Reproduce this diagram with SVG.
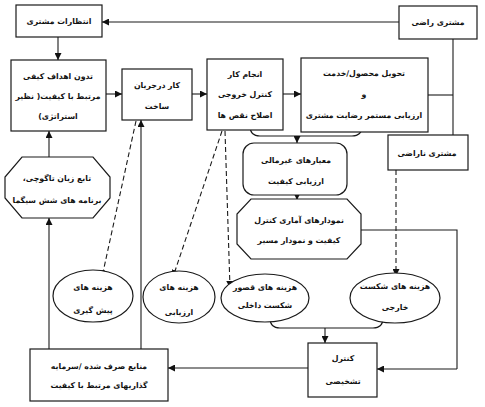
<svg xmlns="http://www.w3.org/2000/svg" width="485" height="407" viewBox="0 0 485 407">
<defs>
<marker id="ah" viewBox="0 0 10 10" refX="10" refY="5" markerWidth="7" markerHeight="7" markerUnits="userSpaceOnUse" orient="auto">
<path d="M0,0 L10,5 L0,10 z" fill="#111"/>
</marker>
<style>
.b{fill:#fff;stroke:#1a1a1a;stroke-width:1.2}
.c{fill:none;stroke:#1a1a1a;stroke-width:1.1}
.a{marker-end:url(#ah)}
.d{stroke-dasharray:5,3}
text{font-family:"DejaVu Sans",sans-serif;font-size:7.8px;font-weight:bold;fill:#111;text-anchor:middle}
</style>
</defs>
<rect width="485" height="407" fill="#fff"/>
<g id="connectors">
<path class="c a" d="M399,22 L102,22"/>
<path class="c a" d="M58,37 L58,60"/>
<path class="c a" d="M106,94 L122,94"/>
<path class="c a" d="M192,94 L207,94"/>
<path class="c a" d="M283,94 L301,94"/>
<path class="c" d="M428,95 L453,95"/>
<path class="c" d="M453,39 L453,135"/>
<path class="c" d="M250,126 Q250,136 260,136 L352,136 Q362,136 362,126"/>
<path class="c a" d="M297,136 L297,143"/>
<path class="c a" d="M297,195 L297,200"/>
<path class="c" d="M361,230 L457,230 L457,369"/>
<path class="c a" d="M457,369 L377,369"/>
<path class="c d a" d="M396,170 L396,276"/>
<path class="c a" d="M49,157 L49,131"/>
<path class="c a" d="M49,349 L49,218"/>
<path class="c a" d="M141,349 L141,120"/>
<path class="c d a" d="M136,121 L102,277"/>
<path class="c d a" d="M222,131 L173,277"/>
<path class="c d a" d="M225,131 L230,288"/>
<path class="c" d="M270,318 Q270,328 280,328 L373,328 Q383,328 383,318"/>
<path class="c a" d="M325,328 L325,343"/>
<path class="c a" d="M308,368 L168,368"/>
</g>
<g id="n1"><rect class="b" x="16" y="5" width="86" height="32"/><text x="59" y="24">&#x200F;انتظارات مشتری&#x200F;</text></g>
<g id="n2"><rect class="b" x="399" y="6" width="78" height="33"/><text x="438" y="25">&#x200F;مشتری راضی&#x200F;</text></g>
<g id="n3"><rect class="b" x="11" y="60" width="95" height="71"/>
<text x="58" y="79">&#x200F;تدون اهداف کیفی&#x200F;</text><text x="58" y="99">&#x200F;مرتبط با کیفیت( نظیر&#x200F;</text><text x="58" y="119">&#x200F;استراتژی)&#x200F;</text></g>
<g id="n4"><rect class="b" x="122" y="69" width="70" height="51"/><text x="157" y="88">&#x200F;کار درجریان&#x200F;</text><text x="157" y="109">&#x200F;ساخت&#x200F;</text></g>
<g id="n5"><rect class="b" x="207" y="59" width="76" height="71"/>
<text x="245" y="77">&#x200F;انجام کار&#x200F;</text><text x="245" y="97">&#x200F;کنترل خروجی&#x200F;</text><text x="245" y="118">&#x200F;اصلاح نقص ها&#x200F;</text></g>
<g id="n6"><rect class="b" x="301" y="58" width="127" height="74"/>
<text x="364" y="76">&#x200F;تحویل محصول/خدمت&#x200F;</text><text x="364" y="97">&#x200F;و&#x200F;</text><text x="364" y="118">&#x200F;ارزیابی مستمر رضایت مشتری&#x200F;</text></g>
<g id="n7"><rect class="b" x="388" y="135" width="80" height="35"/><text x="427" y="156">&#x200F;مشتری ناراضی&#x200F;</text></g>
<g id="n8"><rect class="b" x="243" y="143" width="104" height="52" rx="11"/>
<text x="296" y="163">&#x200F;معیارهای غیرمالی&#x200F;</text><text x="296" y="184">&#x200F;ارزیابی کیفیت&#x200F;</text></g>
<g id="n9"><polygon class="b" points="251,199 347,199 361,214 361,244 347,259 251,259 237,244 237,214"/>
<text x="299" y="223">&#x200F;نمودارهای آماری کنترل&#x200F;</text><text x="299" y="243">&#x200F;کیفیت و نمودار مسیر&#x200F;</text></g>
<g id="n10"><polygon class="b" points="22,157 93,157 110,177 110,198 93,218 22,218 5,198 5,177"/>
<text x="57" y="181">&#x200F;تابع زیان تاگوچی،&#x200F;</text><text x="57" y="203">&#x200F;برنامه های شش سیگما&#x200F;</text></g>
<g id="n11"><ellipse class="b" cx="93" cy="296" rx="40" ry="26"/><text x="93" y="290">&#x200F;هزینه های&#x200F;</text><text x="93" y="313">&#x200F;پیش گیری&#x200F;</text></g>
<g id="n12"><ellipse class="b" cx="179" cy="297" rx="36" ry="26"/><text x="179" y="290">&#x200F;هزینه های&#x200F;</text><text x="179" y="315">&#x200F;ارزیابی&#x200F;</text></g>
<g id="n13"><ellipse class="b" cx="265" cy="298" rx="44" ry="24"/><text x="265" y="290">&#x200F;هزینه های قصور&#x200F;</text><text x="265" y="308">&#x200F;شکست داخلی&#x200F;</text></g>
<g id="n14"><ellipse class="b" cx="395" cy="298" rx="45" ry="25"/><text x="395" y="289">&#x200F;هزینه های شکست&#x200F;</text><text x="395" y="310">&#x200F;خارجی&#x200F;</text></g>
<g id="n15"><rect class="b" x="308" y="343" width="69" height="54"/><text x="343" y="361">&#x200F;کنترل&#x200F;</text><text x="343" y="384">&#x200F;تشخیصی&#x200F;</text></g>
<g id="n16"><rect class="b" x="30" y="349" width="138" height="52"/>
<text x="99" y="369">&#x200F;منابع صرف شده /سرمایه&#x200F;</text><text x="99" y="388">&#x200F;گذاریهای مرتبط با کیفیت&#x200F;</text></g>
</svg>
